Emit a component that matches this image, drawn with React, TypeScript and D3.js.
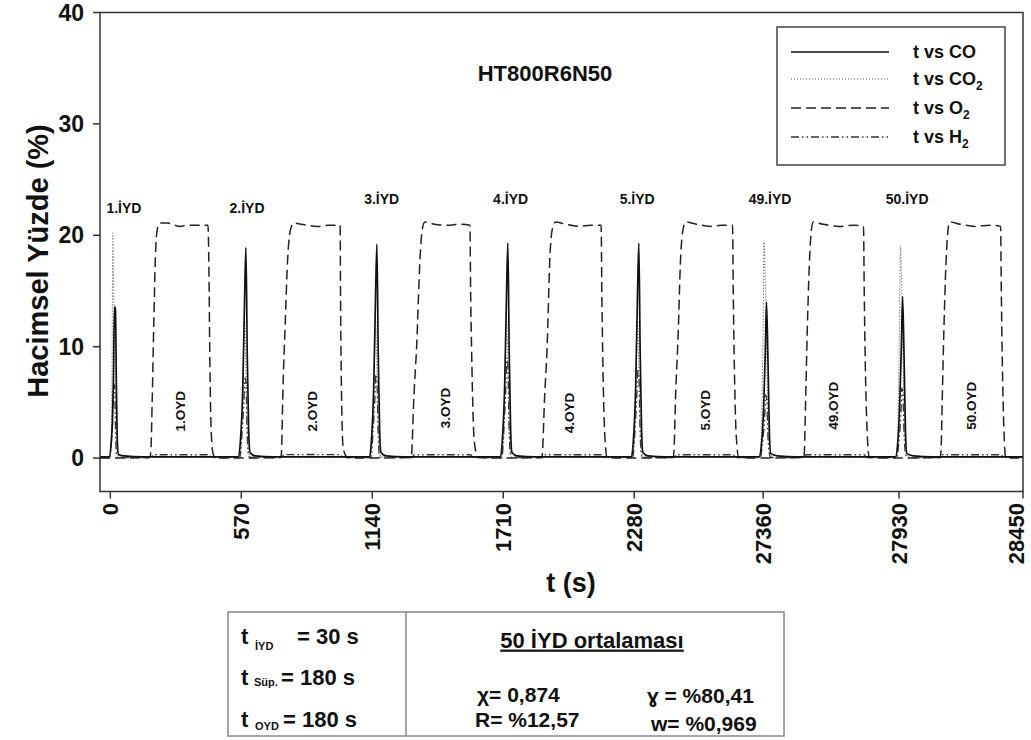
import React from 'react';
import * as d3 from 'd3';

const W = 1031;
const H = 740;
const FONT = '"Liberation Sans", Arial, Helvetica, sans-serif';

// Cycles shown on the (broken) time axis
const cycleNames = ['1', '2', '3', '4', '5', '49', '50'];
const cycleStarts = [0, 570, 1140, 1710, 2280, 27360, 27930];

const xTicks = [0, 570, 1140, 1710, 2280, 27360, 27930, 28450];
const yTicks = [0, 10, 20, 30, 40];

// Time domain with a gap between cycle 5 and cycle 49
const xDomain = [-45, 2810, 27330, 28450];
const yDomain = [-3, 40];

// Points per cycle: [seconds from cycle start, volume %]
const coCycles: [number, number][][] = [
  [[-5, 0.1], [3, 1.2], [9, 3.3], [13, 6.6], [18, 13.6], [22, 13.4], [27, 5.5], [31, 1.2], [36, 0.3], [60, 0.2], [140, 0.1]],
  [[-12, 0.1], [-4, 1.5], [6, 6.0], [14, 14.0], [20, 18.9], [26, 9.0], [32, 2.5], [38, 0.5], [60, 0.2], [140, 0.1]],
  [[-12, 0.1], [-4, 1.5], [6, 6.2], [14, 14.3], [20, 19.2], [26, 9.2], [32, 2.5], [38, 0.5], [60, 0.2], [140, 0.1]],
  [[-12, 0.1], [-4, 1.6], [6, 6.4], [14, 14.5], [20, 19.3], [26, 9.4], [32, 2.6], [38, 0.5], [60, 0.2], [140, 0.1]],
  [[-12, 0.1], [-4, 1.5], [6, 6.2], [14, 14.4], [20, 19.3], [26, 9.3], [32, 2.5], [38, 0.5], [60, 0.2], [140, 0.1]],
  [[-17, 0.1], [-8, 1.0], [2, 4.5], [9, 9.5], [14, 14.0], [20, 9.0], [26, 2.5], [32, 0.4], [60, 0.2], [140, 0.1]],
  [[-15, 0.1], [-6, 1.2], [3, 5.0], [10, 10.2], [15, 14.5], [21, 9.2], [27, 2.4], [33, 0.4], [60, 0.2], [140, 0.1]],
];

const co2Cycles: [number, number][][] = [
  [[-2, 0.05], [4, 2.0], [8, 10.0], [11, 20.2], [14, 16.0], [18, 12.0], [22, 6.0], [27, 1.5], [32, 0.3], [45, 0.05]],
  [[-8, 0.05], [0, 1.5], [7, 6.0], [14, 12.3], [19, 9.0], [25, 4.0], [31, 0.8], [38, 0.1]],
  [[-8, 0.05], [0, 1.6], [7, 6.2], [14, 12.4], [19, 9.2], [25, 4.1], [31, 0.8], [38, 0.1]],
  [[-8, 0.05], [0, 1.6], [7, 6.4], [14, 12.6], [19, 9.3], [25, 4.2], [31, 0.8], [38, 0.1]],
  [[-8, 0.05], [0, 1.5], [7, 6.1], [14, 12.4], [19, 9.1], [25, 4.0], [31, 0.8], [38, 0.1]],
  [[-16, 0.05], [-8, 2.0], [0, 12.0], [4, 19.4], [8, 17.0], [12, 13.0], [18, 6.0], [25, 1.5], [32, 0.2], [45, 0.05]],
  [[-14, 0.05], [-6, 2.0], [2, 12.0], [6, 19.0], [10, 16.5], [14, 12.5], [20, 5.5], [27, 1.4], [34, 0.2], [46, 0.05]],
];

const h2Cycles: [number, number][][] = [
  [[-2, 0.05], [5, 1.5], [10, 3.3], [14, 6.5], [18, 6.6], [22, 3.0], [26, 0.5], [32, 0.05], [178, 0.05], [186, 0.3], [300, 0.3], [430, 0.3], [440, 0.05]],
  [[-6, 0.05], [4, 2.5], [11, 5.0], [16, 7.2], [20, 6.8], [25, 2.5], [30, 0.4], [36, 0.05], [176, 0.05], [184, 0.3], [300, 0.32], [432, 0.3], [442, 0.05]],
  [[-6, 0.05], [4, 2.6], [11, 5.2], [16, 7.5], [20, 7.0], [25, 2.6], [30, 0.4], [36, 0.05], [174, 0.05], [182, 0.3], [300, 0.3], [428, 0.3], [438, 0.05]],
  [[-6, 0.05], [4, 3.0], [11, 6.2], [16, 9.0], [20, 8.4], [25, 3.0], [30, 0.5], [36, 0.05], [173, 0.05], [181, 0.3], [300, 0.3], [428, 0.3], [438, 0.05]],
  [[-6, 0.05], [4, 2.7], [11, 5.5], [16, 8.0], [20, 7.5], [25, 2.8], [30, 0.4], [36, 0.05], [175, 0.05], [183, 0.3], [300, 0.3], [430, 0.3], [440, 0.05]],
  [[-12, 0.05], [-2, 1.5], [6, 3.5], [11, 5.7], [15, 5.2], [20, 2.0], [26, 0.4], [32, 0.05], [172, 0.05], [180, 0.3], [300, 0.3], [424, 0.3], [434, 0.05]],
  [[-10, 0.05], [0, 1.6], [8, 4.0], [12, 6.3], [16, 5.8], [21, 2.2], [27, 0.4], [33, 0.05], [174, 0.05], [182, 0.3], [300, 0.3], [428, 0.3], [438, 0.05]],
];

const o2Cycles: [number, number][][] = [
  [[170, 0.05], [176, 0.5], [182, 5.0], [189, 12.0], [196, 18.0], [205, 20.6], [218, 21.1], [250, 21.1], [300, 20.8], [345, 20.9], [425, 20.9], [429, 17.0], [433, 9.0], [438, 3.0], [446, 0.5], [456, 0.05]],
  [[172, 0.05], [175, 0.6], [181, 6.0], [191, 12.0], [201, 17.6], [213, 20.4], [228, 21.1], [260, 21.0], [330, 20.8], [380, 20.9], [430, 20.9], [432, 14.0], [436, 6.0], [443, 1.0], [455, 0.2], [465, 0.05]],
  [[169, 0.05], [172, 0.6], [180, 5.0], [193, 10.0], [208, 18.0], [218, 20.6], [229, 21.2], [270, 21.0], [330, 20.9], [380, 21.0], [425, 20.9], [428, 15.0], [432, 10.0], [440, 3.0], [447, 1.0], [461, 0.05]],
  [[168, 0.05], [171, 0.6], [179, 5.0], [191, 10.0], [203, 18.0], [214, 20.6], [228, 21.2], [270, 21.0], [330, 20.8], [380, 20.9], [426, 20.9], [429, 15.0], [434, 8.0], [442, 2.0], [452, 0.05]],
  [[170, 0.05], [173, 0.6], [180, 5.5], [191, 11.0], [202, 18.0], [213, 20.6], [225, 21.2], [270, 21.0], [330, 20.8], [380, 20.9], [428, 20.9], [431, 15.0], [436, 8.0], [444, 2.0], [455, 0.05]],
  [[170, 0.05], [173, 0.6], [179, 6.0], [187, 13.0], [196, 18.5], [203, 20.6], [210, 21.2], [250, 21.0], [320, 20.8], [380, 20.9], [421, 20.8], [424, 15.0], [428, 9.0], [436, 2.5], [445, 0.05]],
  [[173, 0.05], [176, 0.6], [182, 6.0], [190, 13.0], [199, 18.5], [206, 20.6], [213, 21.2], [255, 21.0], [320, 20.8], [380, 20.9], [426, 20.8], [429, 15.0], [433, 9.0], [440, 2.5], [447, 0.05]],
];

// Annotation positions: [seconds from cycle start, volume %]
const iydLabelAt: [number, number][] = [[59, 22.45], [25, 22.45], [41, 23.25], [32, 23.25], [13, 23.25], [29, 23.25], [34, 23.25]];
const oydLabelAt: [number, number][] = [[302, 4.2], [307, 4.2], [316, 4.5], [285, 4.05], [309, 4.3], [291, 4.7], [300, 4.7]];

const baseLevels = { co: 0.1, co2: 0.05, o2: 0.0, h2: 0.05 };

const legendItems = [
  { key: 'co', label: 'CO', sub: '' },
  { key: 'co2', label: 'CO', sub: '2' },
  { key: 'o2', label: 'O', sub: '2' },
  { key: 'h2', label: 'H', sub: '2' },
];

const lineStyles: Record<string, { dash: string; width: number; color: string }> = {
  co: { dash: '', width: 1.7, color: '#111' },
  co2: { dash: '1 2', width: 1.1, color: '#555' },
  o2: { dash: '10 5', width: 1.5, color: '#222' },
  h2: { dash: '8 3 1.5 3 1.5 3', width: 1.3, color: '#333' },
};

const margin = { left: 100, right: 1023, top: 12.5, bottom: 491.5 };
const gapPx = 756;

function buildSeries(cycles: [number, number][][], base: number): [number, number][] {
  const pts: [number, number][] = [[xDomain[0], base]];
  const end = xDomain[xDomain.length - 1];
  cycles.forEach((c, i) => {
    const s = cycleStarts[i];
    pts.push([s - 30, base]);
    c.forEach(([o, v]) => pts.push([s + o, v]));
    pts.push([Math.min(s + 530, end), base]);
  });
  return pts;
}

export default function App() {
  const x = d3.scaleLinear().domain(xDomain).range([margin.left, gapPx, gapPx, margin.right]);
  const y = d3.scaleLinear().domain(yDomain).range([margin.bottom, margin.top]);

  const line = d3
    .line<[number, number]>()
    .x((d) => x(d[0]))
    .y((d) => y(d[1]))
    .curve(d3.curveMonotoneX);

  const series = [
    { key: 'o2', pts: buildSeries(o2Cycles, baseLevels.o2) },
    { key: 'h2', pts: buildSeries(h2Cycles, baseLevels.h2) },
    { key: 'co2', pts: buildSeries(co2Cycles, baseLevels.co2) },
    { key: 'co', pts: buildSeries(coCycles, baseLevels.co) },
  ];

  const legend = { x0: 777, y0: 27, x1: 1005, y1: 165, lineX0: 791, lineX1: 889, textX: 913, rows: [52, 79, 108, 137] };

  return (
    <svg width={W} height={H} style={{ position: 'absolute', left: 0, top: 0, background: '#fff' }} fontFamily={FONT}>
      <rect x={0} y={0} width={W} height={H} fill="#fff" />
      <defs>
        <clipPath id="plot-clip">
          <rect x={margin.left} y={margin.top} width={margin.right - margin.left} height={margin.bottom - margin.top} />
        </clipPath>
      </defs>

      {/* data lines */}
      <g clipPath="url(#plot-clip)">
        {series.map((s) => {
          const st = lineStyles[s.key];
          return (
            <path
              key={s.key}
              d={line(s.pts) || ''}
              fill="none"
              stroke={st.color}
              strokeWidth={st.width}
              strokeDasharray={st.dash || undefined}
              strokeLinejoin="round"
            />
          );
        })}
      </g>

      {/* frame */}
      <rect
        x={margin.left}
        y={margin.top}
        width={margin.right - margin.left}
        height={margin.bottom - margin.top}
        fill="none"
        stroke="#333"
        strokeWidth={1.5}
      />

      {/* y axis */}
      {yTicks.map((t) => (
        <g key={t}>
          <line x1={margin.left - 7} x2={margin.left} y1={y(t)} y2={y(t)} stroke="#333" strokeWidth={1.5} />
          <text x={84} y={y(t)} textAnchor="end" dominantBaseline="central" fontSize={23} fontWeight="bold" fill="#111">
            {t}
          </text>
        </g>
      ))}
      <text
        transform={`translate(48, 261) rotate(-90)`}
        textAnchor="middle"
        fontSize={29}
        fontWeight="bold"
        fill="#111"
      >
        Hacimsel Yüzde (%)
      </text>

      {/* x axis */}
      {xTicks.map((t) => (
        <g key={t}>
          <line x1={x(t)} x2={x(t)} y1={margin.bottom} y2={margin.bottom + 7} stroke="#333" strokeWidth={1.5} />
          <text
            transform={`translate(${Math.min(x(t) + 8, W - 7)}, 503) rotate(-90)`}
            textAnchor="end"
            fontSize={22}
            fontWeight="bold"
            fill="#111"
          >
            {t}
          </text>
        </g>
      ))}
      <text x={571} y={592} textAnchor="middle" fontSize={27} fontWeight="bold" fill="#111">
        t (s)
      </text>

      {/* title */}
      <text x={545} y={81} textAnchor="middle" fontSize={22} fontWeight="bold" fill="#111">
        HT800R6N50
      </text>

      {/* cycle annotations */}
      {cycleNames.map((n, i) => (
        <text
          key={'iyd' + n}
          x={x(cycleStarts[i] + iydLabelAt[i][0])}
          y={y(iydLabelAt[i][1])}
          textAnchor="middle"
          dominantBaseline="central"
          fontSize={14}
          fontWeight="bold"
          fill="#111"
        >
          {n}.İYD
        </text>
      ))}
      {cycleNames.map((n, i) => (
        <text
          key={'oyd' + n}
          transform={`translate(${x(cycleStarts[i] + oydLabelAt[i][0]) + 5}, ${y(oydLabelAt[i][1])}) rotate(-90)`}
          textAnchor="middle"
          fontSize={13.5}
          fontWeight="bold"
          fill="#111"
        >
          {n}.OYD
        </text>
      ))}

      {/* legend */}
      <rect
        x={legend.x0}
        y={legend.y0}
        width={legend.x1 - legend.x0}
        height={legend.y1 - legend.y0}
        fill="#fff"
        stroke="#444"
        strokeWidth={1.5}
      />
      {legendItems.map((it, i) => {
        const st = lineStyles[it.key];
        const ry = legend.rows[i];
        return (
          <g key={it.key}>
            <line
              x1={legend.lineX0}
              x2={legend.lineX1}
              y1={ry}
              y2={ry}
              stroke={st.color}
              strokeWidth={st.width}
              strokeDasharray={st.dash || undefined}
            />
            <text x={legend.textX} y={ry + 6} fontSize={18} fontWeight="bold" fill="#111">
              t vs {it.label}
              {it.sub && (
                <tspan fontSize={12} dy={5}>
                  {it.sub}
                </tspan>
              )}
            </text>
          </g>
        );
      })}

      {/* parameter table */}
      <rect x={228} y={612} width={556} height={124} fill="none" stroke="#888" strokeWidth={1.5} />
      <line x1={406} x2={406} y1={612} y2={736} stroke="#888" strokeWidth={1.5} />
      <g fontWeight="bold" fill="#111">
        <text x={241} y={643.6} fontSize={22}>t</text>
        <text x={255} y={650} fontSize={11}>İYD</text>
        <text x={297} y={643.6} fontSize={22}>= 30 s</text>

        <text x={241} y={685.2} fontSize={22}>t</text>
        <text x={254} y={686} fontSize={11}>Süp.</text>
        <text x={281} y={685.2} fontSize={22}>= 180 s</text>

        <text x={241} y={726.7} fontSize={22}>t</text>
        <text x={255} y={730} fontSize={11}>OYD</text>
        <text x={283} y={726.7} fontSize={22}>= 180 s</text>

        <text x={592} y={647.6} fontSize={22} textAnchor="middle" textDecoration="underline">
          50 İYD ortalaması
        </text>
        <text x={477} y={702} fontSize={21}>χ= 0,874</text>
        <text x={647} y={703} fontSize={21}>ɣ = %80,41</text>
        <text x={475} y={727} fontSize={21}>R= %12,57</text>
        <text x={651} y={731} fontSize={21}>w= %0,969</text>
      </g>
    </svg>
  );
}
